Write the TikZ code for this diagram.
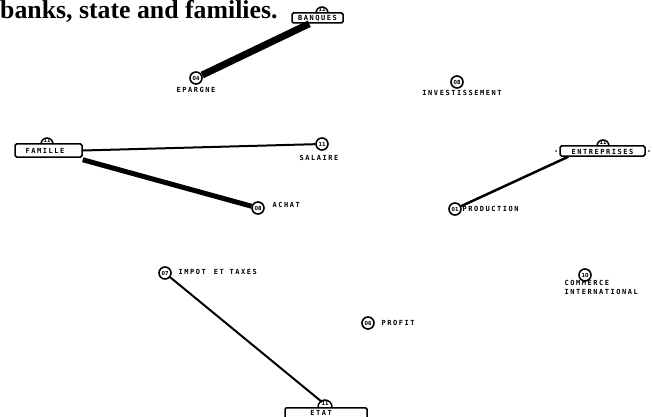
\documentclass[tikz,border=0pt]{standalone}
\usepackage{fontspec}
\setmainfont{Liberation Serif}
\newfontfamily\labfont[LetterSpace=22]{DejaVu Sans Mono Bold}
\newfontfamily\numfontfam{DejaVu Sans Condensed Bold}
\begin{document}
\begin{tikzpicture}[x=1pt,y=-1pt,
  lab/.style={font=\labfont\fontsize{7}{7}\selectfont, inner sep=0.5pt},
  circ/.style={circle, draw, line width=1.6pt, minimum size=12pt, inner sep=0pt,
    font=\numfontfam\fontsize{5.5}{5.5}\selectfont},
  bx/.style={draw, line width=1.5pt, rounded corners=1.5pt, inner sep=0pt},
  num/.style={inner sep=0pt, font=\numfontfam\fontsize{5.5}{5.5}\selectfont},
  bump/.style={line width=1.5pt},
  link/.style={line width=2pt},
  heavy/.style={line width=5pt},
  heavier/.style={line width=7pt}
]
\useasboundingbox (0,0) rectangle (653,417);
% caption
\node[anchor=base west, inner sep=0pt, font=\bfseries\fontsize{25.8}{26}\selectfont] (cap) at (0,19) {banks, state and families.};

% boxes
\node[bx, minimum width=51pt, minimum height=10pt] (bq) at (317.5,18) {};
\node[lab] (bql) at (317.5,18.5) {BANQUES};
\node[bx, minimum width=67pt, minimum height=13pt] (fam) at (48.5,150.5) {};
\node[lab] (faml) at (45,151) {FAMILLE};
\node[bx, minimum width=85pt, minimum height=10pt] (ent) at (602.5,151) {};
\node[lab] (entl) at (602.5,151.5) {ENTREPRISES};
\node[bx, minimum width=82pt, minimum height=20pt, anchor=north] (etat) at (326,407) {};
\node[lab] (etatl) at (321,413) {ETAT};
\fill (556,151) circle (0.8pt) (649,151) circle (0.8pt);

% bumps on boxes
\draw[bump] (316,13) arc (180:0:6pt);
\node[num] (bqn) at (322,9) {11};
\draw[bump] (41,144) arc (180:0:6pt);
\node[num] (famn) at (47,140) {11};
\draw[bump] (597,146) arc (180:0:6pt);
\node[num] (entn) at (603,142) {11};
\draw[bump] (318,407) arc (180:0:7pt);
\coordinate (etb) at (322,402);
\node[num] (etn) at (325,403) {11};

% concept circles
\node[circ] (ep) at (196,78) {04};
\node[circ] (inv) at (457,82) {08};
\node[circ] (sal) at (322,144) {11};
\node[circ] (ach) at (258,208) {08};
\node[circ] (pro) at (455,209) {01};
\node[circ] (imp) at (165,273) {07};
\node[circ] (prf) at (368,323) {06};
\node[circ] (com) at (585,275) {10};

% labels
\node[lab] (epl) at (196,90) {EPARGNE};
\node[lab] (invl) at (462,93) {INVESTISSEMENT};
\node[lab] (sall) at (319,158) {SALAIRE};
\node[lab, anchor=west] (achl) at (272,205) {ACHAT};
\node[lab, anchor=west] (prol) at (462,209) {PRODUCTION};
\node[lab, anchor=west] (impl) at (178,272) {IMPOT\hspace{8pt}ET TAXES};
\node[lab, anchor=west] (prfl) at (381,323) {PROFIT};
\node[lab, anchor=west] (coml) at (564,283) {COMMERCE};
\node[lab, anchor=west] (coml2) at (564,292) {INTERNATIONAL};

% connectors
\draw[heavier] (ep) -- ([xshift=18pt]bq.south west);
\draw[link] (fam.east) -- (sal);
\draw[heavy] ([yshift=-2pt]fam.south east) -- (ach);
\draw[line width=2.5pt] ([xshift=9pt]ent.south west) -- (pro);
\draw[link] (imp) -- (etb);
\end{tikzpicture}
\end{document}
